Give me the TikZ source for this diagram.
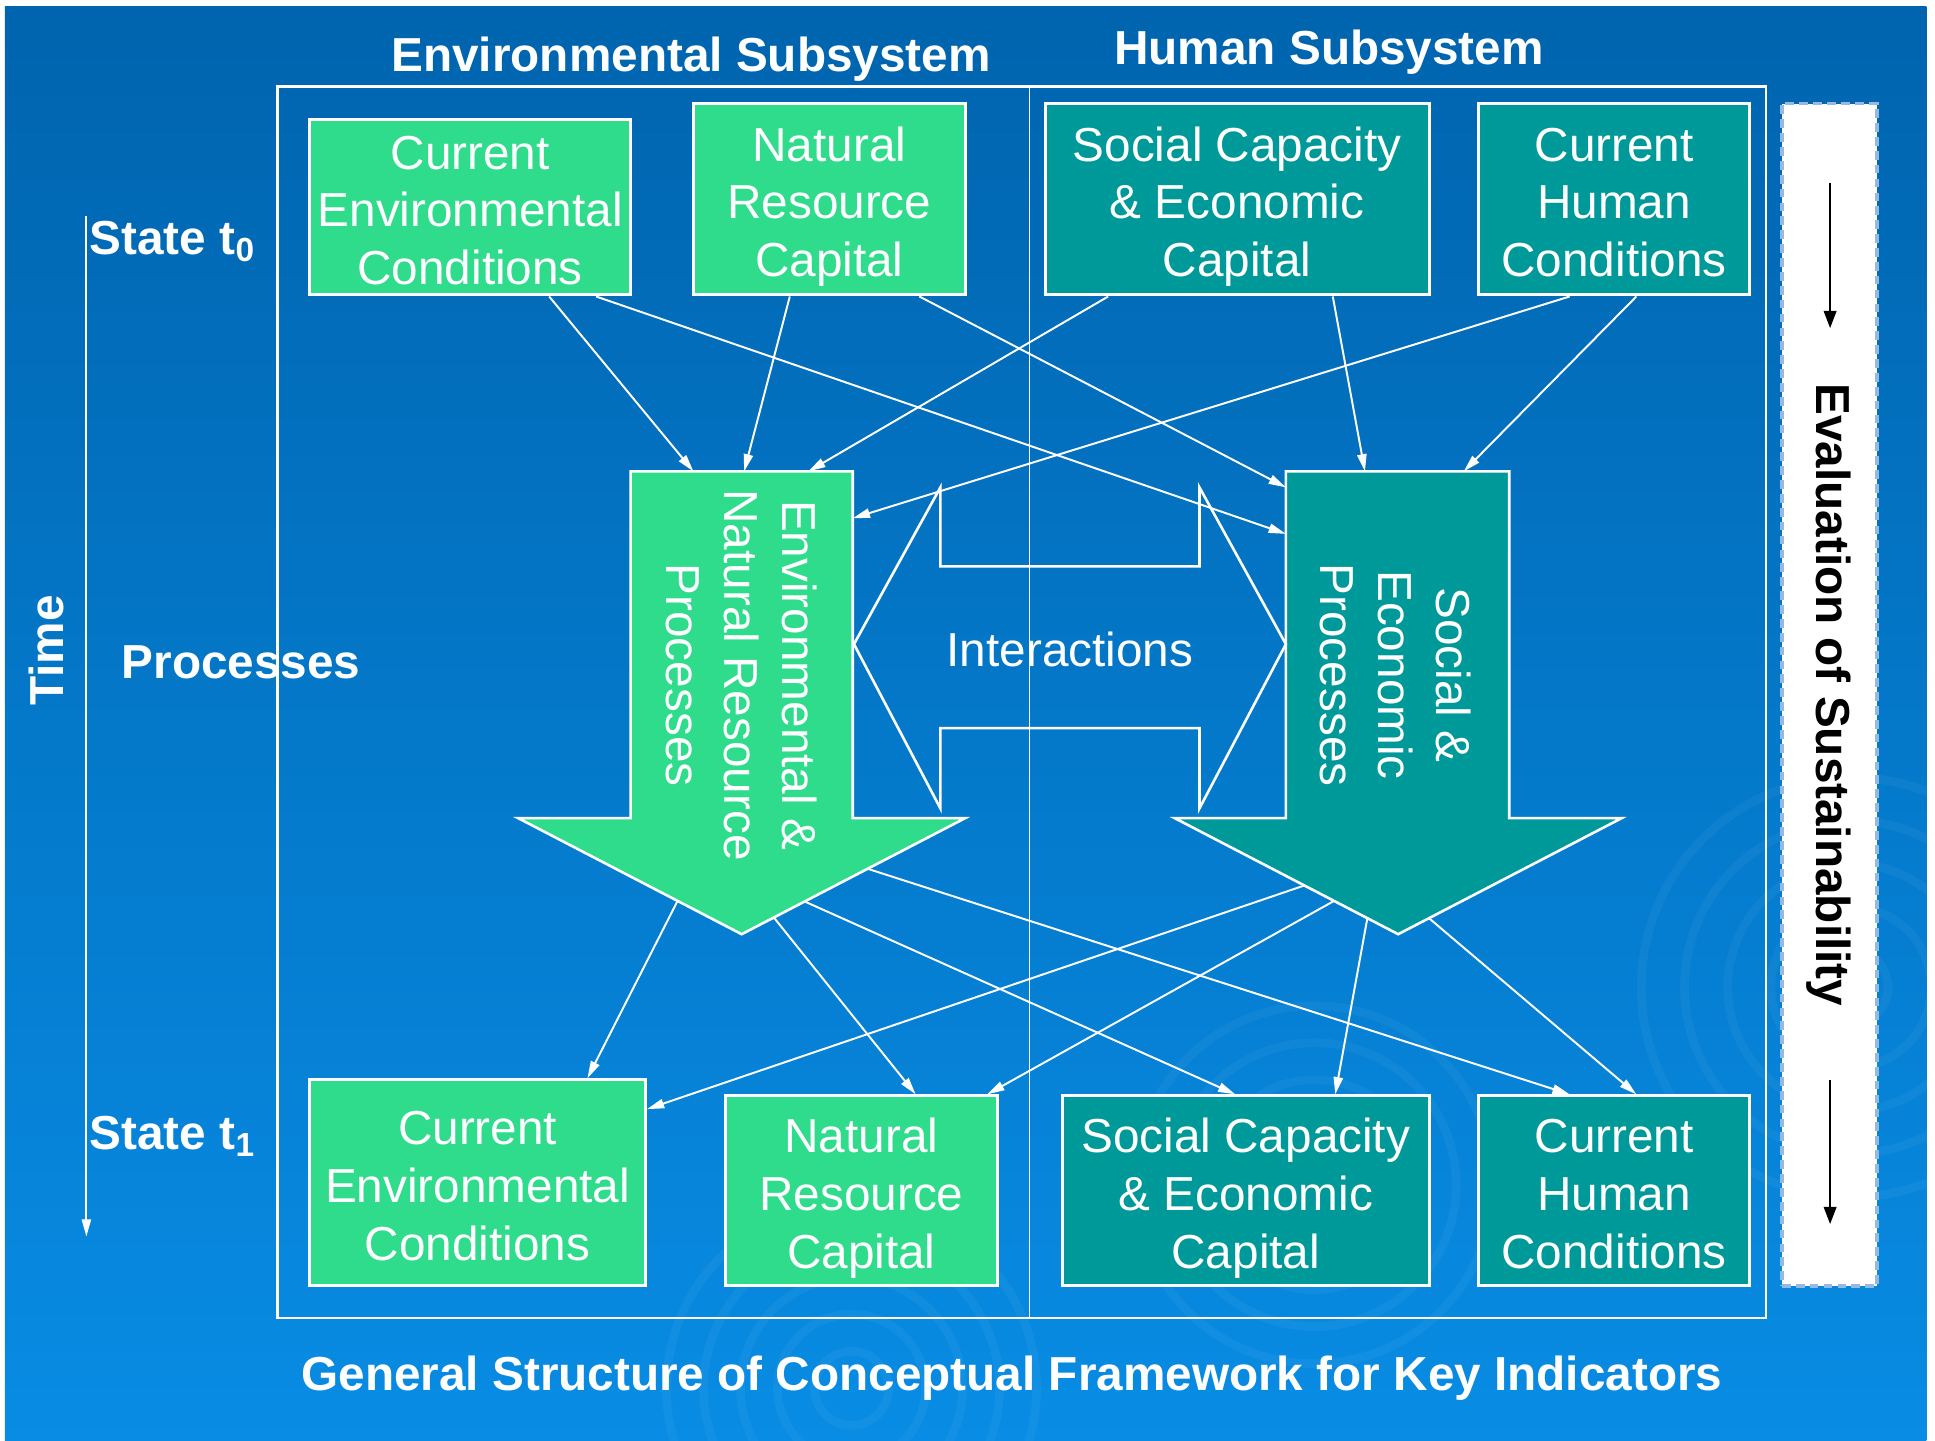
\documentclass[tikz,border=0pt]{standalone}
\usepackage{fontspec}
\setmainfont{Liberation Sans}
\usetikzlibrary{arrows.meta, calc}

\definecolor{bgtop}{RGB}{0,100,174}
\definecolor{bgmid}{RGB}{0,110,190}
\definecolor{bgbot}{RGB}{8,140,228}
\definecolor{envgreen}{RGB}{46,220,140}
\definecolor{humteal}{RGB}{0,153,153}
\definecolor{dashblue}{RGB}{150,185,225}

\tikzset{
  envbox/.style={draw=white, line width=0.7pt, fill=envgreen, text=white, align=center,
    inner sep=0pt, font=\fontsize{11}{13.3}\selectfont,
    text height=35.6pt, text depth=0pt},
  humbox/.style={envbox, fill=humteal},
  procarrow/.style={draw=white, line width=0.6pt},
  proctext/.style={rotate=-90, text=white, align=center, inner sep=0pt,
    font=\fontsize{11}{13.3}\selectfont},
  link/.style={draw=white, line width=0.45pt, -{Triangle[length=1.4mm, width=0.75mm]}},
  caption/.style={text=white, inner sep=0pt, font=\fontsize{11}{13.3}\selectfont\bfseries},
  ripple/.style={draw=white, opacity=0.045, line width=2pt},
}

\begin{document}
\begin{tikzpicture}[x=0.1mm, y=-0.1mm]
  \useasboundingbox (0,0) rectangle (1568,1167);
  % background
  \fill[white] (0,0) rectangle (1568,1167);
  \shade[top color=bgtop, middle color=bgmid, bottom color=bgbot] (4,5) rectangle (1561,1167);
  \foreach \r in {30,60,...,150} {
    \draw[ripple] (690,1125) circle (\r);
  }
  \foreach \r in {25,55,...,145} {
    \draw[ripple] (1065,960) circle (\r);
  }
  \foreach \r in {30,65,...,170} {
    \draw[ripple] (1500,800) circle (\r);
  }

  % frame of the two subsystems
  \draw[white, line width=0.6pt] (225,70) rectangle (1431,1068);
  \draw[white, line width=0.3pt] (834,70) -- (834,1068);
  \node[caption] (envtitle) at (560,48) {Environmental Subsystem};
  \node[caption] (humtitle) at (1077,42) {Human Subsystem};

  % state t0
  \node[envbox, minimum width=26mm, minimum height=14.2mm] (cec0) at (381,168) {Current\\Environmental\\Conditions};
  \node[envbox, minimum width=22mm, minimum height=15.5mm] (nrc0) at (672,161.5) {Natural\\Resource\\Capital};
  \node[humbox, minimum width=31.1mm, minimum height=15.5mm] (sce0) at (1002.5,161.5) {Social Capacity\\\& Economic\\Capital};
  \node[humbox, minimum width=22mm, minimum height=15.5mm] (chc0) at (1308,161.5) {Current\\Human\\Conditions};

  % state t1
  \node[envbox, minimum width=27.2mm, minimum height=16.7mm] (cec1) at (387,958.5) {Current\\Environmental\\Conditions};
  \node[envbox, minimum width=22mm, minimum height=15.4mm] (nrc1) at (698,965) {Natural\\Resource\\Capital};
  \node[humbox, minimum width=29.7mm, minimum height=15.4mm] (sce1) at (1009.5,965) {Social Capacity\\\& Economic\\Capital};
  \node[humbox, minimum width=22mm, minimum height=15.4mm] (chc1) at (1308,965) {Current\\Human\\Conditions};

  % processes
  \coordinate (gnw) at (511,382); \coordinate (gne) at (691,382);
  \coordinate (gse) at (691,663); \coordinate (gsw) at (511,663);
  \coordinate (ghl) at (420,663); \coordinate (ghr) at (782,663);
  \coordinate (gtip) at (601,757);
  \filldraw[procarrow, fill=envgreen] (gnw) -- (gne) -- (gse) -- (ghr) -- (gtip) -- (ghl) -- (gsw) -- cycle;
  \node[proctext] (envproc) at (601,547) {Environmental \&\\Natural Resource\\Processes};

  \coordinate (tnw) at (1042,382); \coordinate (tne) at (1223,382);
  \coordinate (tse) at (1223,663); \coordinate (tsw) at (1042,663);
  \coordinate (thl) at (952,663); \coordinate (thr) at (1314,663);
  \coordinate (ttip) at (1133,757);
  \filldraw[procarrow, fill=humteal] (tnw) -- (tne) -- (tse) -- (thr) -- (ttip) -- (thl) -- (tsw) -- cycle;
  \node[proctext] (socproc) at (1131,547) {Social \&\\Economic\\Processes};

  % interactions
  \draw[procarrow] (692,522) -- (762,395) -- (762,459) -- (972,459) -- (972,395) -- (1042,522)
    -- (972,655) -- (972,590) -- (762,590) -- (762,655) -- cycle;
  \node[text=white, font=\fontsize{11}{13.3}\selectfont] (inter) at (867,526) {Interactions};

  % t0 -> processes
  \draw[link] ($(cec0.south)+(64,0)$) -- ($(gnw)!.283!(gne)$);
  \draw[link] ($(cec0.south)+(102,0)$) -- ($(tnw)!.18!(tsw)$);
  \draw[link] ($(nrc0.south)+(-32,0)$) -- ($(gnw)!.511!(gne)$);
  \draw[link] ($(nrc0.south)+(73,0)$) -- ($(tnw)!.046!(tsw)$);
  \draw[link] ($(sce0.south)+(-104.5,0)$) -- ($(gnw)!.8!(gne)$);
  \draw[link] ($(sce0.south)+(77.5,0)$) -- ($(tnw)!.354!(tne)$);
  \draw[link] ($(chc0.south)+(-36,0)$) -- ($(gne)!.135!(gse)$);
  \draw[link] ($(chc0.south)+(18,0)$) -- ($(tnw)!.796!(tne)$);

  % processes -> t1
  \draw[link] ($(ghl)!.713!(gtip)$) -- ($(cec1.north)+(89,0)$);
  \draw[link] ($(ghr)!.856!(gtip)$) -- ($(nrc1.north)+(44,0)$);
  \draw[link] ($(ghr)!.718!(gtip)$) -- ($(sce1.north)+(-8.5,0)$);
  \draw[link] ($(ghr)!.436!(gtip)$) -- ($(chc1.north)+(-36,0)$);
  \draw[link] ($(thl)!.58!(ttip)$) -- ($(cec1.north east)+(0,25)$);
  \draw[link] ($(thl)!.713!(ttip)$) -- ($(nrc1.north)+(102,0)$);
  \draw[link] ($(thl)!.862!(ttip)$) -- ($(sce1.north)+(72.5,0)$);
  \draw[link] ($(thr)!.862!(ttip)$) -- ($(chc1.north)+(18,0)$);

  % time axis
  \node[caption, anchor=west] (st0) at (72,196) {State t\textsubscript{0}};
  \node[caption, anchor=west] (st1) at (72,921) {State t\textsubscript{1}};
  \node[caption, anchor=west] (proc) at (98,537) {Processes};
  \node[caption, rotate=90] (time) at (38,527) {Time};
  \coordinate (tstart) at (70,175);
  \coordinate (tend) at (70,1002);
  \draw[link] (tstart) -- (tend);

  % evaluation
  \node[fill=white, draw=dashblue, dash pattern=on 2pt off 1.2pt, line width=0.8pt,
    minimum width=7.7mm, minimum height=95.8mm, inner sep=0pt] (evalbar) at (1482.5,563) {};
  \node[caption, text=black, rotate=-90] (evaltext) at (1482,563) {Evaluation of Sustainability};
  \coordinate (ea1) at (1483,148); \coordinate (ea2) at (1483,266);
  \coordinate (eb1) at (1483,875); \coordinate (eb2) at (1483,992);
  \draw[black, line width=0.6pt, -{Triangle[length=1.4mm, width=1mm]}] (ea1) -- (ea2);
  \draw[black, line width=0.6pt, -{Triangle[length=1.4mm, width=1mm]}] (eb1) -- (eb2);

  \node[caption] (bottomtitle) at (820,1117) {General Structure of Conceptual Framework for Key Indicators};
\end{tikzpicture}
\end{document}
